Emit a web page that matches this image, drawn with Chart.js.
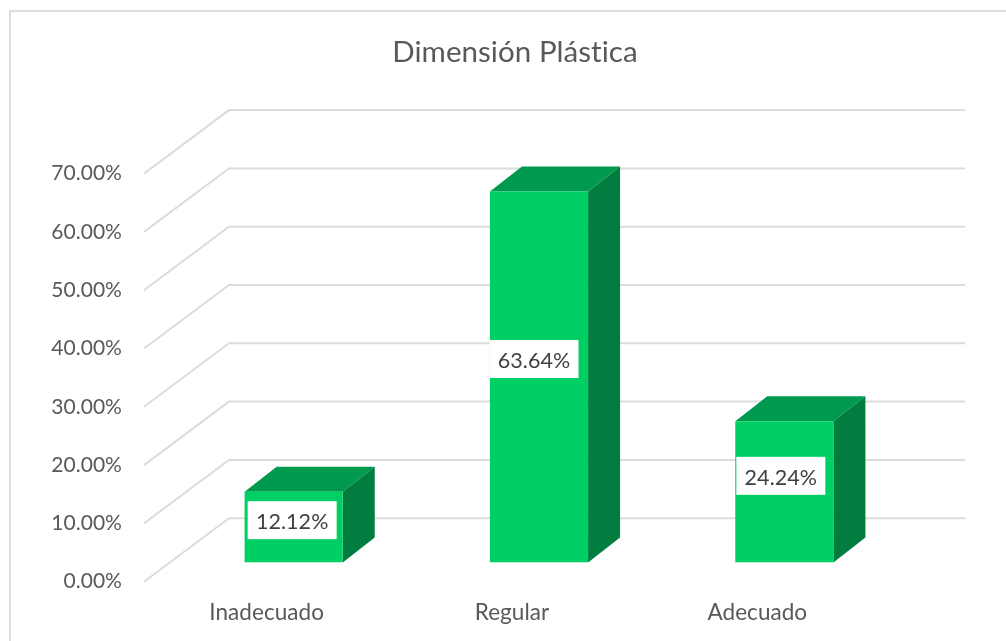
<!DOCTYPE html>
<html><head><meta charset="utf-8">
<style>html,body{margin:0;padding:0;background:#fff}
#wrap{position:relative;width:1006px;height:641px;overflow:hidden}
#frame{position:absolute;left:9px;top:10px;width:1100px;height:700px;border:2px solid #dedede;box-sizing:border-box}
canvas{position:absolute;left:0;top:0}</style>
<script src="https://cdn.jsdelivr.net/npm/chart.js@4/dist/chart.umd.js"></script>
</head><body><div id="wrap"><div id="frame"></div><canvas id="c" width="1006" height="641"></canvas></div>
<script>
const categories = ["Inadecuado", "Regular", "Adecuado"];
const values = [12.12, 63.64, 24.24];
const valueLabels = ["12.12%", "63.64%", "24.24%"];
const titleText = "Dimensión Plástica";

const FONT = "Lato, Carlito, Calibri, sans-serif";
const depth = {dx: 85, dy: 63.5};
const barFront = {dx: 27, dy: 19.2};
const barDepth = {dx: 32, dy: 25};
const labelNudge = [{x:-1.5,y:-7},{x:-5,y:-18},{x:-3.5,y:-16}];

const plot3d = {
  id: "plot3d",
  beforeDraw(chart) { chart.ctx.letterSpacing = "0.05px"; },
  beforeDatasetsDraw(chart) {
    const {ctx, scales: {x, y}} = chart;
    ctx.save();
    ctx.strokeStyle = "#dcdcdc"; ctx.lineWidth = 2; ctx.lineJoin = "miter";
    y.ticks.forEach(t => {
      const py = y.getPixelForValue(t.value);
      ctx.beginPath();
      ctx.moveTo(x.left, py);
      ctx.lineTo(x.left + depth.dx, py - depth.dy);
      ctx.lineTo(x.right + depth.dx, py - depth.dy);
      ctx.stroke();
    });
    ctx.restore();
  },
  beforeDatasetDraw(chart, args) {
    const {ctx} = chart;
    const bars = chart.getDatasetMeta(args.index).data;
    ctx.save();
    ctx.translate(barFront.dx, -barFront.dy);
    bars.forEach(b => {
      const l = b.x - b.width / 2, r = b.x + b.width / 2, t = b.y, bt = b.base;
      ctx.fillStyle = "#009a4e";
      ctx.beginPath();
      ctx.moveTo(l, t); ctx.lineTo(l + barDepth.dx, t - barDepth.dy);
      ctx.lineTo(r + barDepth.dx, t - barDepth.dy); ctx.lineTo(r, t); ctx.closePath(); ctx.fill();
      ctx.fillStyle = "#007d3f";
      ctx.beginPath();
      ctx.moveTo(r, t); ctx.lineTo(r + barDepth.dx, t - barDepth.dy);
      ctx.lineTo(r + barDepth.dx, bt - barDepth.dy); ctx.lineTo(r, bt); ctx.closePath(); ctx.fill();
    });
  },
  afterDatasetDraw(chart, args) {
    chart.ctx.restore();
  },
  afterDatasetsDraw(chart) {
    const {ctx} = chart;
    const bars = chart.getDatasetMeta(0).data;
    ctx.save();
    ctx.font = "21.5px " + FONT;
    ctx.textAlign = "center"; ctx.textBaseline = "middle";
    bars.forEach((b, i) => {
      const cx = b.x + barFront.dx + labelNudge[i].x;
      const cy = (b.y + b.base) / 2 - barFront.dy + labelNudge[i].y;
      ctx.fillStyle = "#ffffff";
      ctx.fillRect(cx - 44.5, cy - 19, 89, 38);
      ctx.fillStyle = "#404040";
      ctx.fillText(valueLabels[i], cx, cy + 2);
    });
    ctx.restore();
  }
};

new Chart(document.getElementById("c"), {
  type: "bar",
  data: {labels: categories, datasets: [{data: values, backgroundColor: "#00cf63", barPercentage: 0.4, categoryPercentage: 1}]},
  options: {
    responsive: false, animation: false,
    layout: {padding: {left: 24, right: 0, top: 35, bottom: 0}},
    plugins: {
      legend: {display: false}, tooltip: {enabled: false},
      title: {display: true, text: titleText, color: "#595959", font: {family: FONT, size: 29.5, weight: "normal"}, padding: {top: 0, bottom: 103.2}}
    },
    scales: {
      x: {grid: {display: false}, border: {display: false}, afterFit(s){ s.height = 59.3; },
          ticks: {color: "#595959", font: {family: FONT, size: 22.5}, padding: 10, maxRotation: 0}},
      y: {min: 0, max: 70, afterFit(s){ s.width = 120; },
          grid: {display: false}, border: {display: false},
          ticks: {stepSize: 10, color: "#595959", font: {family: FONT, size: 21}, padding: 14,
                  callback: v => v.toFixed(2) + "%"}},
      yRight: {position: "right", min: 0, max: 70, afterFit(s){ s.width = 126; },
          grid: {display: false}, border: {display: false}, ticks: {display: false}}
    }
  },
  plugins: [plot3d]
});
</script></body></html>
